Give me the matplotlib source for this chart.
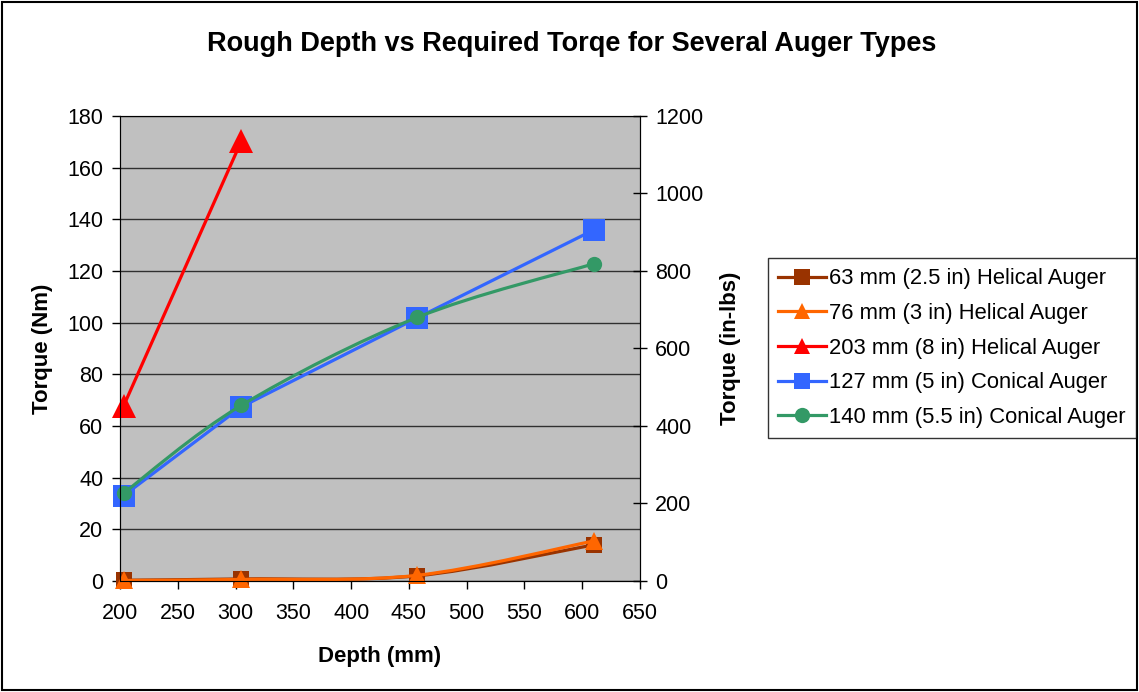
import numpy as np
import matplotlib
matplotlib.use("Agg")
import matplotlib.pyplot as plt
from matplotlib.path import Path
from matplotlib.patches import PathPatch, Rectangle
from matplotlib.lines import Line2D

plt.rcParams['font.family'] = ['Liberation Sans', 'DejaVu Sans']

# data
depth = [203, 305, 457, 610]
helical_63 = [0.3, 0.8, 2.0, 14.0]
helical_76 = [0.2, 0.6, 2.2, 15.5]
helical_203_depth = [203, 305]
helical_203 = [67.7, 170.3]
conical_127 = [33.0, 67.4, 101.8, 135.9]
conical_140 = [34.0, 68.0, 102.0, 122.8]

names = ['63 mm (2.5 in) Helical Auger', '76 mm (3 in) Helical Auger',
         '203 mm (8 in) Helical Auger', '127 mm (5 in) Conical Auger',
         '140 mm (5.5 in) Conical Auger']


def smooth_path(x, y):
    # excel style smoothed line (bezier through the points)
    pts = np.column_stack([x, y]).astype(float)
    n = len(pts)
    verts = [pts[0]]
    codes = [Path.MOVETO]
    for i in range(n - 1):
        p0 = pts[i - 1] if i > 0 else pts[i]
        p3 = pts[i + 2] if i + 2 < n else pts[i + 1]
        c1 = pts[i] + (pts[i + 1] - p0) / 6.0
        c2 = pts[i + 1] - (p3 - pts[i]) / 6.0
        verts += [c1, c2, pts[i + 1]]
        codes += [Path.CURVE4] * 3
    return Path(verts, codes)


fig = plt.figure(figsize=(11.39, 6.92), dpi=100)
ax = fig.add_axes([0.1054, 0.1604, 0.4565, 0.672])
ax.set_facecolor('#C0C0C0')

series = [
    (depth, helical_63, '#993300', 's', 11, True),
    (depth, helical_76, '#FF6600', '^', 13, True),
    (helical_203_depth, helical_203, '#FF0000', '^', 17, False),
    (depth, conical_127, '#3366FF', 's', 16, False),
    (depth, conical_140, '#339966', 'o', 11, True),
]

handles = []
for k, (x, y, col, mk, ms, smooth) in enumerate(series):
    z = 3 + k
    if smooth:
        ax.add_patch(PathPatch(smooth_path(x, y), facecolor='none', edgecolor=col,
                               linewidth=2.3, zorder=z, capstyle='round'))
        ax.plot(x, y, linestyle='none', marker=mk, markersize=ms, color=col,
                markeredgewidth=0, zorder=z, clip_on=False)
    else:
        ax.plot(x, y, linestyle='-', linewidth=2.3, marker=mk, markersize=ms, color=col,
                markeredgewidth=0, zorder=z, clip_on=False)
    handles.append(Line2D([], [], color=col, linewidth=2.3, marker=mk,
                          markersize=min(ms, 11), markeredgewidth=0))

ax.set_xlim(200, 650)
ax.set_ylim(0, 180)
ax.set_xticks(np.arange(200, 651, 50))
ax.set_yticks(np.arange(0, 181, 20))
ax.grid(axis='y', color='black', linewidth=1.0, alpha=0.75)
ax.set_axisbelow(True)
ax.tick_params(axis='both', labelsize=15.5, direction='out', length=6, width=1)
ax.tick_params(axis='x', pad=10)
ax.tick_params(axis='y', pad=6)
ax.spines['top'].set_color('#808080')
ax.spines['left'].set_color('#404040')
ax.spines['bottom'].set_color('black')
ax.spines['right'].set_color('black')

ax2 = ax.twinx()
ax2.set_ylim(0, 1200)
ax2.set_yticks(np.arange(0, 1201, 200))
ax2.tick_params(axis='y', labelsize=15.5, direction='inout', length=10, width=1, pad=6)

ax.set_xlabel('Depth (mm)', fontsize=16, fontweight='bold', labelpad=16)
ax.set_ylabel('Torque (Nm)', fontsize=16, fontweight='bold', labelpad=10)
ax2.set_ylabel('Torque (in-lbs)', fontsize=16, fontweight='bold', labelpad=12)

fig.text(0.502, 0.936, 'Rough Depth vs Required Torqe for Several Auger Types',
         ha='center', va='center', fontsize=19.5, fontweight='bold')

leg = fig.legend(handles, names, loc='center left', bbox_to_anchor=(0.674, 0.497),
                 fontsize=15.8, frameon=True, fancybox=False, edgecolor='black',
                 handlelength=2.2, handletextpad=0.15, labelspacing=0.62,
                 borderpad=0.45, borderaxespad=0)
leg.get_frame().set_linewidth(1.0)

fig.patches.append(Rectangle((0.002, 0.003), 0.996, 0.994, transform=fig.transFigure,
                             fill=False, edgecolor='black', linewidth=1.5))

fig.savefig('out.png', dpi=100)
